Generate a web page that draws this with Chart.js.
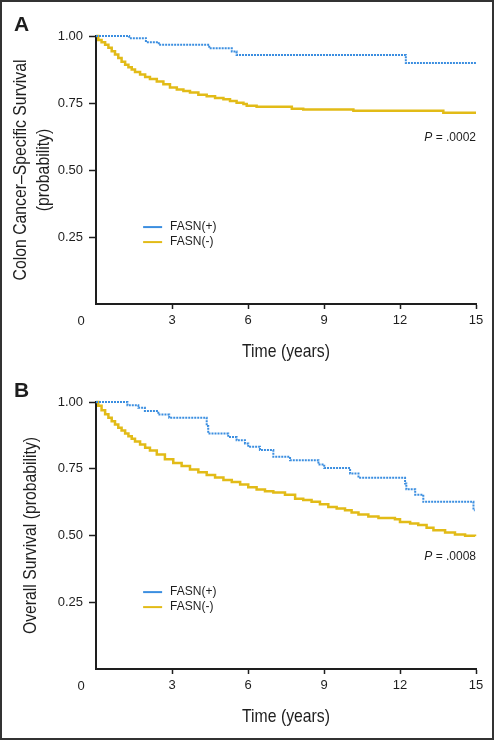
<!DOCTYPE html>
<html>
<head>
<meta charset="utf-8">
<script src="https://cdn.jsdelivr.net/npm/chart.js@4/dist/chart.umd.min.js"></script>
<style>
  body { margin: 0; background: #fff; }
  #frame { position: absolute; left: 0; top: 0; width: 494px; height: 740px; box-sizing: border-box; border: 2px solid #333; }
  canvas { position: absolute; left: 0; }
  #panelA { top: 0; }
  #panelB { top: 366px; }
</style>
</head>
<body>
<div id="frame"></div>
<canvas id="panelA" width="500" height="366"></canvas>
<canvas id="panelB" width="500" height="374"></canvas>
<script>
// series names and axis ticks
const seriesLabels = ['FASN(+)', 'FASN(-)'];
const xTicks = [0, 3, 6, 9, 12, 15];
const yTicks = [0, 0.25, 0.5, 0.75, 1];

// A: colon cancer-specific survival (time in years, survival probability)
const tA_pos = [0, 1.31, 1.97, 2.48, 4.47, 5.36, 5.55, 12.23, 15];
const sA_pos = [1, 0.992, 0.977, 0.967, 0.954, 0.942, 0.929, 0.899, 0.899];
const tA_neg = [0, 0.09, 0.22, 0.36, 0.49, 0.62, 0.75, 0.88, 1.01, 1.15, 1.28, 1.41, 1.54, 1.74, 1.94, 2.13, 2.40, 2.66, 2.92, 3.19, 3.45, 3.71, 4.04, 4.37, 4.70, 5.03, 5.29, 5.55, 5.82, 5.95, 6.34, 7.73, 8.18, 10.16, 13.71, 15];
const sA_neg = [1, 0.985, 0.977, 0.967, 0.956, 0.943, 0.931, 0.918, 0.904, 0.893, 0.883, 0.875, 0.866, 0.856, 0.847, 0.840, 0.830, 0.820, 0.808, 0.800, 0.795, 0.789, 0.781, 0.775, 0.769, 0.764, 0.757, 0.751, 0.746, 0.740, 0.736, 0.729, 0.726, 0.721, 0.714, 0.714];

// B: overall survival
const tB_pos = [0, 1.24, 1.67, 1.93, 2.46, 2.89, 4.37, 4.43, 5.22, 5.55, 5.88, 6.01, 6.47, 7.00, 7.66, 8.78, 9.01, 10.03, 10.36, 12.20, 12.25, 12.60, 12.92, 14.90, 14.95];
const sB_pos = [1, 0.988, 0.978, 0.966, 0.953, 0.941, 0.910, 0.882, 0.869, 0.857, 0.845, 0.832, 0.820, 0.795, 0.782, 0.766, 0.753, 0.732, 0.716, 0.695, 0.673, 0.653, 0.626, 0.595, 0.595];
const tB_neg = [0, 0.09, 0.22, 0.36, 0.49, 0.62, 0.75, 0.88, 1.01, 1.15, 1.28, 1.41, 1.54, 1.74, 1.94, 2.13, 2.40, 2.72, 3.05, 3.38, 3.71, 4.04, 4.37, 4.70, 5.03, 5.36, 5.69, 6.01, 6.34, 6.67, 7.00, 7.46, 7.86, 8.18, 8.51, 8.84, 9.17, 9.50, 9.83, 10.09, 10.36, 10.75, 11.15, 11.80, 12.00, 12.40, 12.72, 13.05, 13.32, 13.78, 14.17, 14.57, 14.96];
const sB_neg = [1, 0.986, 0.969, 0.954, 0.941, 0.928, 0.916, 0.904, 0.893, 0.882, 0.872, 0.862, 0.852, 0.841, 0.829, 0.818, 0.803, 0.786, 0.772, 0.760, 0.747, 0.737, 0.727, 0.717, 0.708, 0.700, 0.691, 0.681, 0.672, 0.666, 0.661, 0.653, 0.638, 0.633, 0.626, 0.617, 0.607, 0.601, 0.595, 0.586, 0.579, 0.571, 0.566, 0.561, 0.551, 0.545, 0.539, 0.529, 0.520, 0.511, 0.504, 0.499, 0.497];

const BLUE = '#3b8ee0';
const YELLOW = '#e2bb17';
const INK = '#1e1e1e';
const SANS = '"Liberation Sans", Arial, sans-serif';

function toPoints(t, s) {
    return t.map((v, i) => ({ x: v, y: s[i] }));
}

// the journal uses a condensed face for axis titles; squeeze a regular one
function condensed(ctx, text, x, y, rot) {
    ctx.save();
    ctx.translate(x, y);
    ctx.rotate(rot);
    ctx.scale(0.83, 1);
    ctx.fillText(text, 0, 0);
    ctx.restore();
}

// axis titles, panel letter, corner "0", P value and the in-plot legend
const extras = {
    id: 'extras',
    afterDraw(chart, args, opts) {
        const { ctx, chartArea } = chart;
        const xs = chart.scales.x, ys = chart.scales.y;
        ctx.save();
        ctx.fillStyle = INK;
        ctx.textBaseline = 'middle';
        ctx.textAlign = 'center';

        ctx.font = '19px ' + SANS;
        const midX = (chartArea.left + chartArea.right) / 2;
        const midY = (chartArea.top + chartArea.bottom) / 2;
        condensed(ctx, opts.xTitle, midX, opts.xTitleY, 0);
        opts.yTitle.forEach((line, i) => {
            condensed(ctx, line, opts.yTitleX[i], midY, -Math.PI / 2);
        });

        ctx.font = 'bold 21px ' + SANS;
        ctx.textAlign = 'left';
        ctx.fillText(opts.letter, 14, 25);

        ctx.font = '13px ' + SANS;
        ctx.textAlign = 'center';
        ctx.fillText('0', chartArea.left - 15, chartArea.bottom + 17);

        ctx.font = '12px ' + SANS;
        ctx.textAlign = 'right';
        const rest = ' = ' + opts.p;
        const py = ys.getPixelForValue(opts.pAt);
        ctx.fillText(rest, chartArea.right, py);
        const wRest = ctx.measureText(rest).width;
        ctx.font = 'italic 12px ' + SANS;
        ctx.fillText('P', chartArea.right - wRest, py);

        ctx.font = '12px ' + SANS;
        ctx.textAlign = 'left';
        const lx = xs.getPixelForValue(opts.legendAt[0]);
        const ly = ys.getPixelForValue(opts.legendAt[1]);
        chart.data.datasets.forEach((ds, i) => {
            const y = ly + i * 15;
            ctx.strokeStyle = ds.borderColor;
            ctx.lineWidth = 2;
            ctx.beginPath();
            ctx.moveTo(lx, y);
            ctx.lineTo(lx + 19, y);
            ctx.stroke();
            ctx.fillText(ds.label, lx + 27, y);
        });
        ctx.restore();
    }
};

function hideZero(c) {
    return c.tick && c.tick.value === 0 ? 'rgba(0,0,0,0)' : INK;
}

function makeChart(id, cfg) {
    return new Chart(document.getElementById(id), {
        type: 'line',
        data: {
            datasets: [{
                label: seriesLabels[0],
                data: toPoints(cfg.tPos, cfg.sPos),
                borderColor: BLUE,
                borderWidth: 2,
                borderDash: [2, 1],
                stepped: 'before',
                pointRadius: 0,
                clip: false
            }, {
                label: seriesLabels[1],
                data: toPoints(cfg.tNeg, cfg.sNeg),
                borderColor: YELLOW,
                borderWidth: 2.5,
                stepped: 'before',
                pointRadius: 0,
                clip: false
            }]
        },
        options: {
            responsive: false,
            animation: false,
            layout: { padding: { left: 0, top: 36, right: 24, bottom: 0 } },
            plugins: {
                legend: { display: false },
                tooltip: { enabled: false },
                extras: cfg.extras
            },
            scales: {
                x: {
                    type: 'linear',
                    min: 0,
                    max: 15,
                    afterBuildTicks: s => { s.ticks = xTicks.map(v => ({ value: v })); },
                    afterFit: s => { s.height = cfg.xHeight; },
                    border: { display: true, color: INK, width: 2 },
                    grid: { drawOnChartArea: false, drawTicks: true, tickLength: 5, tickWidth: 1.5, color: hideZero },
                    ticks: {
                        color: INK,
                        padding: 4,
                        maxRotation: 0,
                        font: { family: SANS, size: 13 },
                        callback: v => v === 0 ? '' : String(v)
                    }
                },
                y: {
                    min: 0,
                    max: 1,
                    afterBuildTicks: s => { s.ticks = yTicks.map(v => ({ value: v })); },
                    afterFit: s => { s.width = 96; },
                    border: { display: true, color: INK, width: 2 },
                    grid: { drawOnChartArea: false, drawTicks: true, tickLength: 7, tickWidth: 1.5, color: hideZero },
                    ticks: {
                        color: INK,
                        padding: 6,
                        font: { family: SANS, size: 13 },
                        callback: v => v === 0 ? '' : v.toFixed(2)
                    }
                }
            }
        },
        plugins: [extras]
    });
}

makeChart('panelA', {
    tPos: tA_pos, sPos: sA_pos, tNeg: tA_neg, sNeg: sA_neg, xHeight: 62,
    extras: {
        letter: 'A', p: '.0002', pAt: 0.619, legendAt: [1.86, 0.287],
        xTitle: 'Time (years)', xTitleY: 352,
        yTitle: ['Colon Cancer\u2013Specific Survival', '(probability)'], yTitleX: [20.5, 43.5]
    }
});

makeChart('panelB', {
    tPos: tB_pos, sPos: sB_pos, tNeg: tB_neg, sNeg: sB_neg, xHeight: 71,
    extras: {
        letter: 'B', p: '.0008', pAt: 0.419, legendAt: [1.86, 0.288],
        xTitle: 'Time (years)', xTitleY: 351,
        yTitle: ['Overall Survival (probability)'], yTitleX: [30.5]
    }
});
</script>
</body>
</html>
